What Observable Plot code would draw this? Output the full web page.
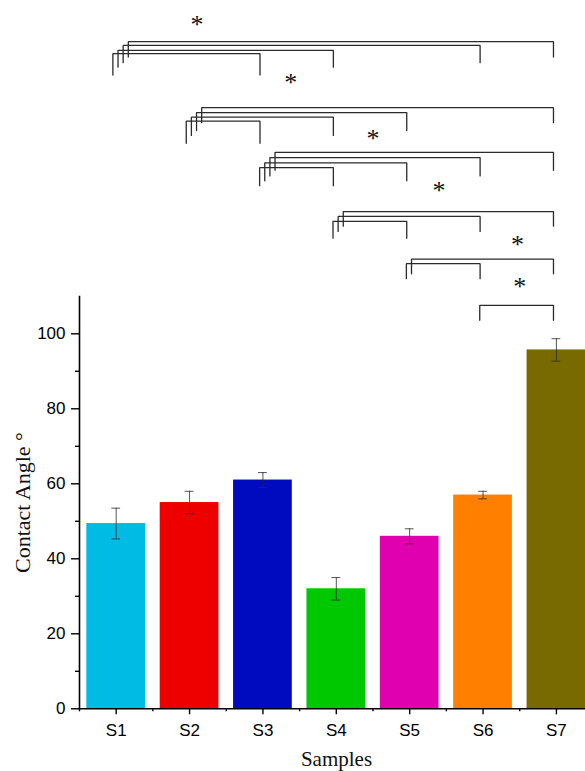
<!DOCTYPE html>
<html>
<head>
<meta charset="utf-8">
<script src="https://cdn.jsdelivr.net/npm/d3@7"></script>
<script src="https://cdn.jsdelivr.net/npm/@observablehq/plot@0.6"></script>
<style>
  html, body { margin: 0; padding: 0; background: #fff; overflow: hidden; }
  #chart svg { display: block; }
</style>
</head>
<body>
<div id="chart"></div>
<script>
// ---- data ----
const samples = ["S1", "S2", "S3", "S4", "S5", "S6", "S7"];
const angles  = [49.4, 55.0, 61.0, 32.0, 46.0, 57.0, 95.7];
const errors  = [4.1, 3.0, 2.0, 3.0, 2.0, 1.0, 3.0];
const colors  = ["#00BCE4", "#EE0000", "#000BBF", "#00C800", "#E000B0", "#FF7F00", "#796A00"];
const yTicks = [0, 20, 40, 60, 80, 100];
const yMinorTicks = [10, 30, 50, 70, 90];

// significance brackets (levels in contact-angle units, drawn above the axis)
const bracketFrom = ["S1","S1","S1","S1","S2","S2","S2","S2","S3","S3","S3","S3","S4","S4","S4","S5","S5","S6"];
const bracketTo   = ["S7","S6","S4","S3","S7","S5","S4","S3","S7","S6","S5","S4","S7","S6","S5","S7","S6","S7"];
const bracketTop  = [177.9,176.9,175.6,174.7,160.3,159.0,157.8,156.7,148.4,147.0,145.6,144.3,132.6,131.3,130.0,119.9,118.7,107.6];
const bracketFoot = [173.8,172.3,171.1,169.0,156.3,154.2,152.9,150.8,143.6,142.1,140.8,139.5,128.7,127.3,125.5,116.0,114.7,103.6];

// asterisks (x in sample-position units, y in contact-angle units)
const starX = [2.1, 3.38, 4.5, 5.4, 6.47, 6.5];
const starY = [183.8, 168.2, 153.3, 139.4, 125.2, 113.8];

// ---- derived tables ----
const pos = s => samples.indexOf(s) + 1;
const bars = samples.map((s, i) => ({sample: s, i: i + 1, angle: angles[i], err: errors[i], color: colors[i]}));
const brackets = bracketFrom.map((f, j) => ({id: j, from: f, to: bracketTo[j], top: bracketTop[j], foot: bracketFoot[j]}));
brackets.forEach(b => {
  b.rank = brackets.filter(o => o.from === b.from && pos(o.to) < pos(b.to)).length;
});
const bracketPts = brackets.flatMap(b => {
  const xl = pos(b.from) - 0.045 + 0.07 * b.rank;
  const xr = pos(b.to) - 0.04;
  return [
    {id: b.id, x: xl, y: b.foot},
    {id: b.id, x: xl, y: b.top},
    {id: b.id, x: xr, y: b.top},
    {id: b.id, x: xr, y: b.foot}
  ];
});
const stars = starX.map((x, i) => ({x, y: starY[i]}));
const majorX = samples.map((s, i) => i + 1);
const minorX = samples.map((s, i) => i + 0.5).concat([samples.length + 0.5]);

const serif = "'Liberation Serif', 'Times New Roman', serif";
const errColor = "#2a2a2a";

const chart = Plot.plot({
  width: 585,
  height: 771,
  marginLeft: 79,
  marginRight: 0,
  marginTop: 295.8,
  marginBottom: 62.7,
  style: {fontFamily: "'Liberation Sans', Arial, sans-serif", fontSize: "17px", background: "#fff", color: "#000"},
  x: {type: "linear", domain: [0.5, 7.5], range: [79, 592.6]},
  y: {domain: [0, 110], range: [708.3, 295.8]},
  marks: [
    Plot.rectY(bars, {x1: d => d.i - 0.4, x2: d => d.i + 0.4, y1: 0, y2: "angle", fill: "color"}),
    Plot.ruleX(bars, {x: "i", y1: d => d.angle - d.err, y2: d => d.angle + d.err, stroke: errColor, strokeOpacity: 0.8}),
    Plot.ruleY(bars, {y: d => d.angle + d.err, x1: d => d.i - 0.06, x2: d => d.i + 0.06, stroke: errColor, strokeOpacity: 0.8}),
    Plot.ruleY(bars, {y: d => d.angle - d.err, x1: d => d.i - 0.06, x2: d => d.i + 0.06, stroke: errColor, strokeOpacity: 0.8}),
    Plot.ruleX([0.5], {y1: 0, y2: 110, stroke: "#000", strokeWidth: 1.6}),
    Plot.ruleY([0], {x1: 0.5, x2: 7.5, stroke: "#000", strokeWidth: 1.6}),
    Plot.axisY(yTicks, {tickSize: 8, tickPadding: 6, fontSize: 17, label: null, strokeWidth: 1.4}),
    Plot.axisY(yMinorTicks, {tickSize: 4, tickFormat: () => "", label: null, strokeWidth: 1.4}),
    Plot.axisX(majorX, {tickSize: 6, tickPadding: 9, fontSize: 17, tickFormat: v => samples[v - 1], label: null, strokeWidth: 1.4}),
    Plot.axisX(minorX, {tickSize: 3, tickFormat: () => "", label: null, strokeWidth: 1.4}),
    Plot.text(["Contact Angle °"], {frameAnchor: "left", rotate: -90, dx: -50, textAnchor: "middle", lineAnchor: "bottom", fontFamily: serif, fontSize: 22, fill: "#111"}),
    Plot.text(["Samples"], {frameAnchor: "bottom", dx: 4, dy: 57.5, textAnchor: "middle", lineAnchor: "bottom", fontFamily: serif, fontSize: 21, fill: "#111"}),
    Plot.line(bracketPts, {x: "x", y: "y", z: "id", stroke: "#2b2b2b", strokeWidth: 1.3, strokeLinejoin: "miter"}),
    Plot.text(stars, {x: "x", y: "y", text: () => "*", fontFamily: serif, fontSize: 26, dy: 5, fill: "#111"})
  ]
});
document.getElementById("chart").appendChild(chart);
</script>
</body>
</html>
